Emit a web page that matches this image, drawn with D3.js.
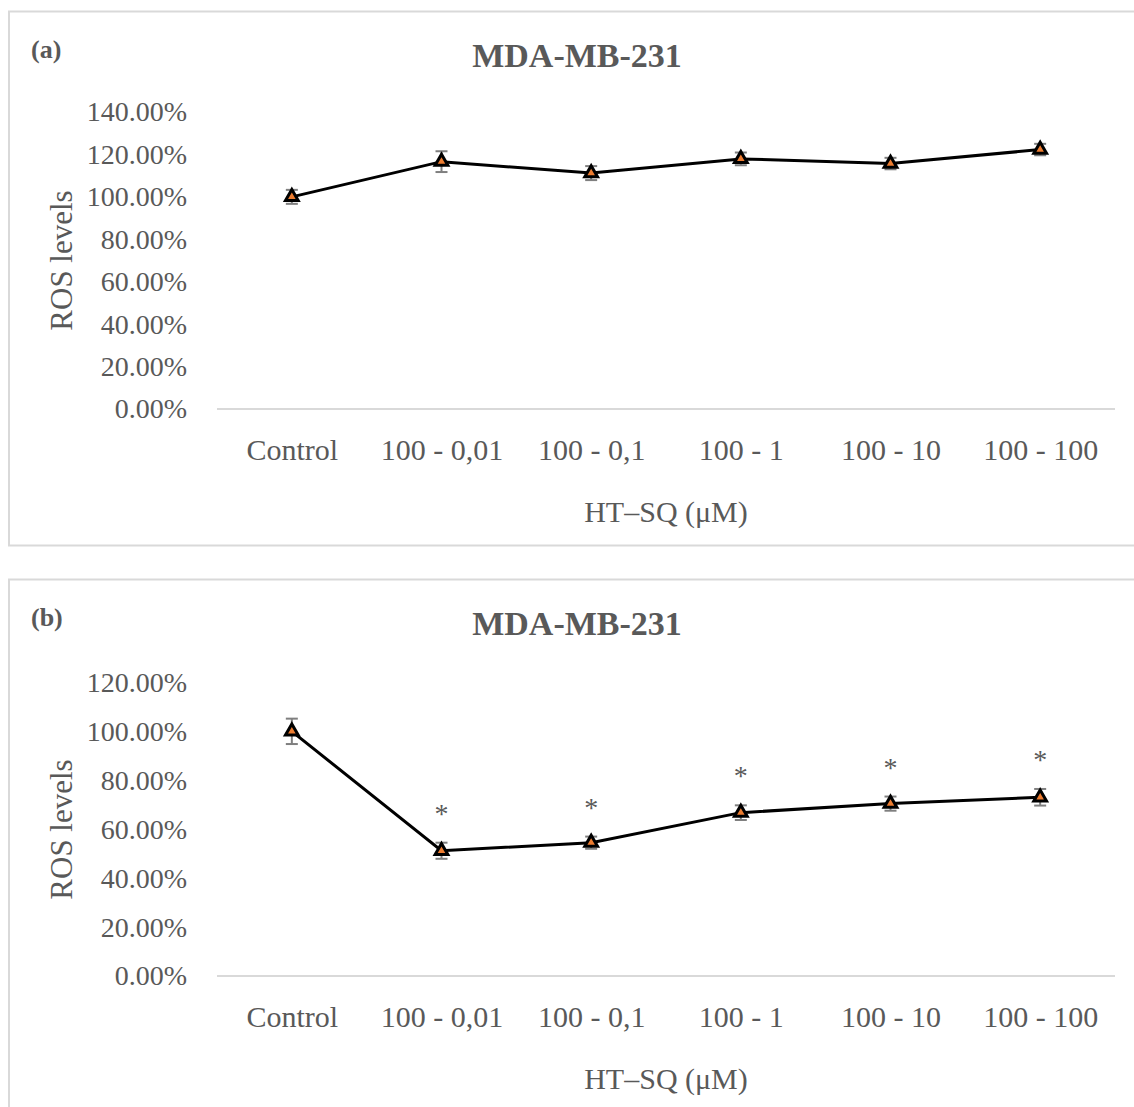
<!DOCTYPE html>
<html>
<head>
<meta charset="utf-8">
<script src="https://cdn.jsdelivr.net/npm/d3@7"></script>
<style>
  body { margin: 0; background: #fff; }
  text { font-family: "Liberation Serif", "Times New Roman", serif; fill: #595959; }
</style>
</head>
<body>
<div id="chart"></div>
<script>
// Chart values
const categories = ["Control", "100 - 0,01", "100 - 0,1", "100 - 1", "100 - 10", "100 - 100"];
const rosA = [100.0, 116.6, 111.2, 117.9, 115.7, 122.3];
const errA = [3.3, 4.9, 3.3, 3.0, 2.7, 2.7];
const rosB = [100.2, 51.3, 54.6, 66.9, 70.6, 73.2];
const errB = [5.2, 3.3, 2.5, 3.0, 2.9, 3.4];
const sigB = ["", "*", "*", "*", "*", "*"];
const ticksA = [0, 20, 40, 60, 80, 100, 120, 140];
const ticksB = [0, 20, 40, 60, 80, 100, 120];
const chartTitle = "MDA-MB-231";
const xTitle = "HT\u2013SQ (\u03bcM)";
const yTitle = "ROS levels";

const width = 1134, height = 1107;

const svg = d3.select("#chart")
    .append("svg")
    .attr("width", width)
    .attr("height", height);

function drawPanel(p) {
    const g = svg.append("g");

    // Panel frame
    g.append("rect")
        .attr("x", 9).attr("y", p.top)
        .attr("width", 1140).attr("height", p.boxH)
        .attr("fill", "none")
        .attr("stroke", "#d9d9d9")
        .attr("stroke-width", 2);

    g.append("text")
        .attr("x", 31).attr("y", p.top + 46)
        .attr("font-size", "26px").attr("font-weight", "bold")
        .text(p.label);

    g.append("text")
        .attr("x", 577).attr("y", p.top + 55)
        .attr("text-anchor", "middle")
        .attr("font-size", "34px").attr("font-weight", "bold")
        .text(chartTitle);

    const x = d3.scalePoint()
        .domain(categories)
        .range([217, 1115])
        .padding(0.5);

    const y = d3.scaleLinear()
        .domain([0, d3.max(p.ticks)])
        .range([p.y0, p.yTop]);

    // Y axis: labels only
    const yAxis = g.append("g")
        .attr("transform", "translate(217,0)")
        .call(d3.axisLeft(y).tickValues(p.ticks).tickSize(0).tickPadding(30)
            .tickFormat(d => d.toFixed(2) + "%"));
    yAxis.select(".domain").remove();
    yAxis.selectAll("text")
        .attr("font-size", "28px")
        .attr("fill", "#595959")
        .style("font-family", "Liberation Serif");

    // X axis line and labels
    const xAxis = g.append("g")
        .attr("transform", `translate(0,${p.y0})`)
        .call(d3.axisBottom(x).tickSize(0).tickPadding(30));
    xAxis.select(".domain").attr("stroke", "#d9d9d9").attr("stroke-width", 2)
        .attr("d", "M217,0H1115");
    xAxis.selectAll("text")
        .attr("font-size", "30px")
        .attr("fill", "#595959")
        .style("font-family", "Liberation Serif");

    g.append("text")
        .attr("x", 666).attr("y", p.y0 + 113)
        .attr("text-anchor", "middle")
        .attr("font-size", "30px")
        .text(xTitle);

    g.append("text")
        .attr("transform", `translate(72,${(p.y0 + p.yTop) / 2}) rotate(-90)`)
        .attr("text-anchor", "middle")
        .attr("font-size", "31px")
        .text(yTitle);

    const pts = categories.map((c, i) => ({ c, v: p.values[i], e: p.errors[i], s: p.sig ? p.sig[i] : "" }));

    // Error bars
    const eb = g.append("g").attr("stroke", "#7f7f7f").attr("stroke-width", 2);
    eb.selectAll("line.v").data(pts).join("line")
        .attr("x1", d => x(d.c)).attr("x2", d => x(d.c))
        .attr("y1", d => y(d.v - d.e)).attr("y2", d => y(d.v + d.e));
    eb.selectAll("line.t").data(pts).join("line")
        .attr("x1", d => x(d.c) - 6).attr("x2", d => x(d.c) + 6)
        .attr("y1", d => y(d.v + d.e)).attr("y2", d => y(d.v + d.e));
    eb.selectAll("line.b").data(pts).join("line")
        .attr("x1", d => x(d.c) - 6).attr("x2", d => x(d.c) + 6)
        .attr("y1", d => y(d.v - d.e)).attr("y2", d => y(d.v - d.e));

    // Series line
    g.append("path")
        .datum(pts)
        .attr("fill", "none")
        .attr("stroke", "#000")
        .attr("stroke-width", 3)
        .attr("d", d3.line().x(d => x(d.c)).y(d => y(d.v)));

    // Triangle markers
    g.selectAll("path.marker").data(pts).join("path")
        .attr("class", "marker")
        .attr("transform", d => `translate(${x(d.c)},${y(d.v)})`)
        .attr("d", d3.symbol(d3.symbolTriangle, 70))
        .attr("fill", "#ed7d31")
        .attr("stroke", "#000")
        .attr("stroke-width", 3)
        .attr("stroke-linejoin", "miter");

    // Significance stars
    g.selectAll("text.sig").data(pts.filter(d => d.s)).join("text")
        .attr("class", "sig")
        .attr("x", d => x(d.c))
        .attr("y", d => y(d.v + d.e) - 34 + 14)
        .attr("text-anchor", "middle")
        .attr("font-size", "28px")
        .text(d => d.s);
}

drawPanel({ label: "(a)", top: 11.5, boxH: 534, y0: 409, yTop: 112, ticks: ticksA, values: rosA, errors: errA });
drawPanel({ label: "(b)", top: 579.5, boxH: 560, y0: 976, yTop: 683, ticks: ticksB, values: rosB, errors: errB, sig: sigB });
</script>
</body>
</html>
